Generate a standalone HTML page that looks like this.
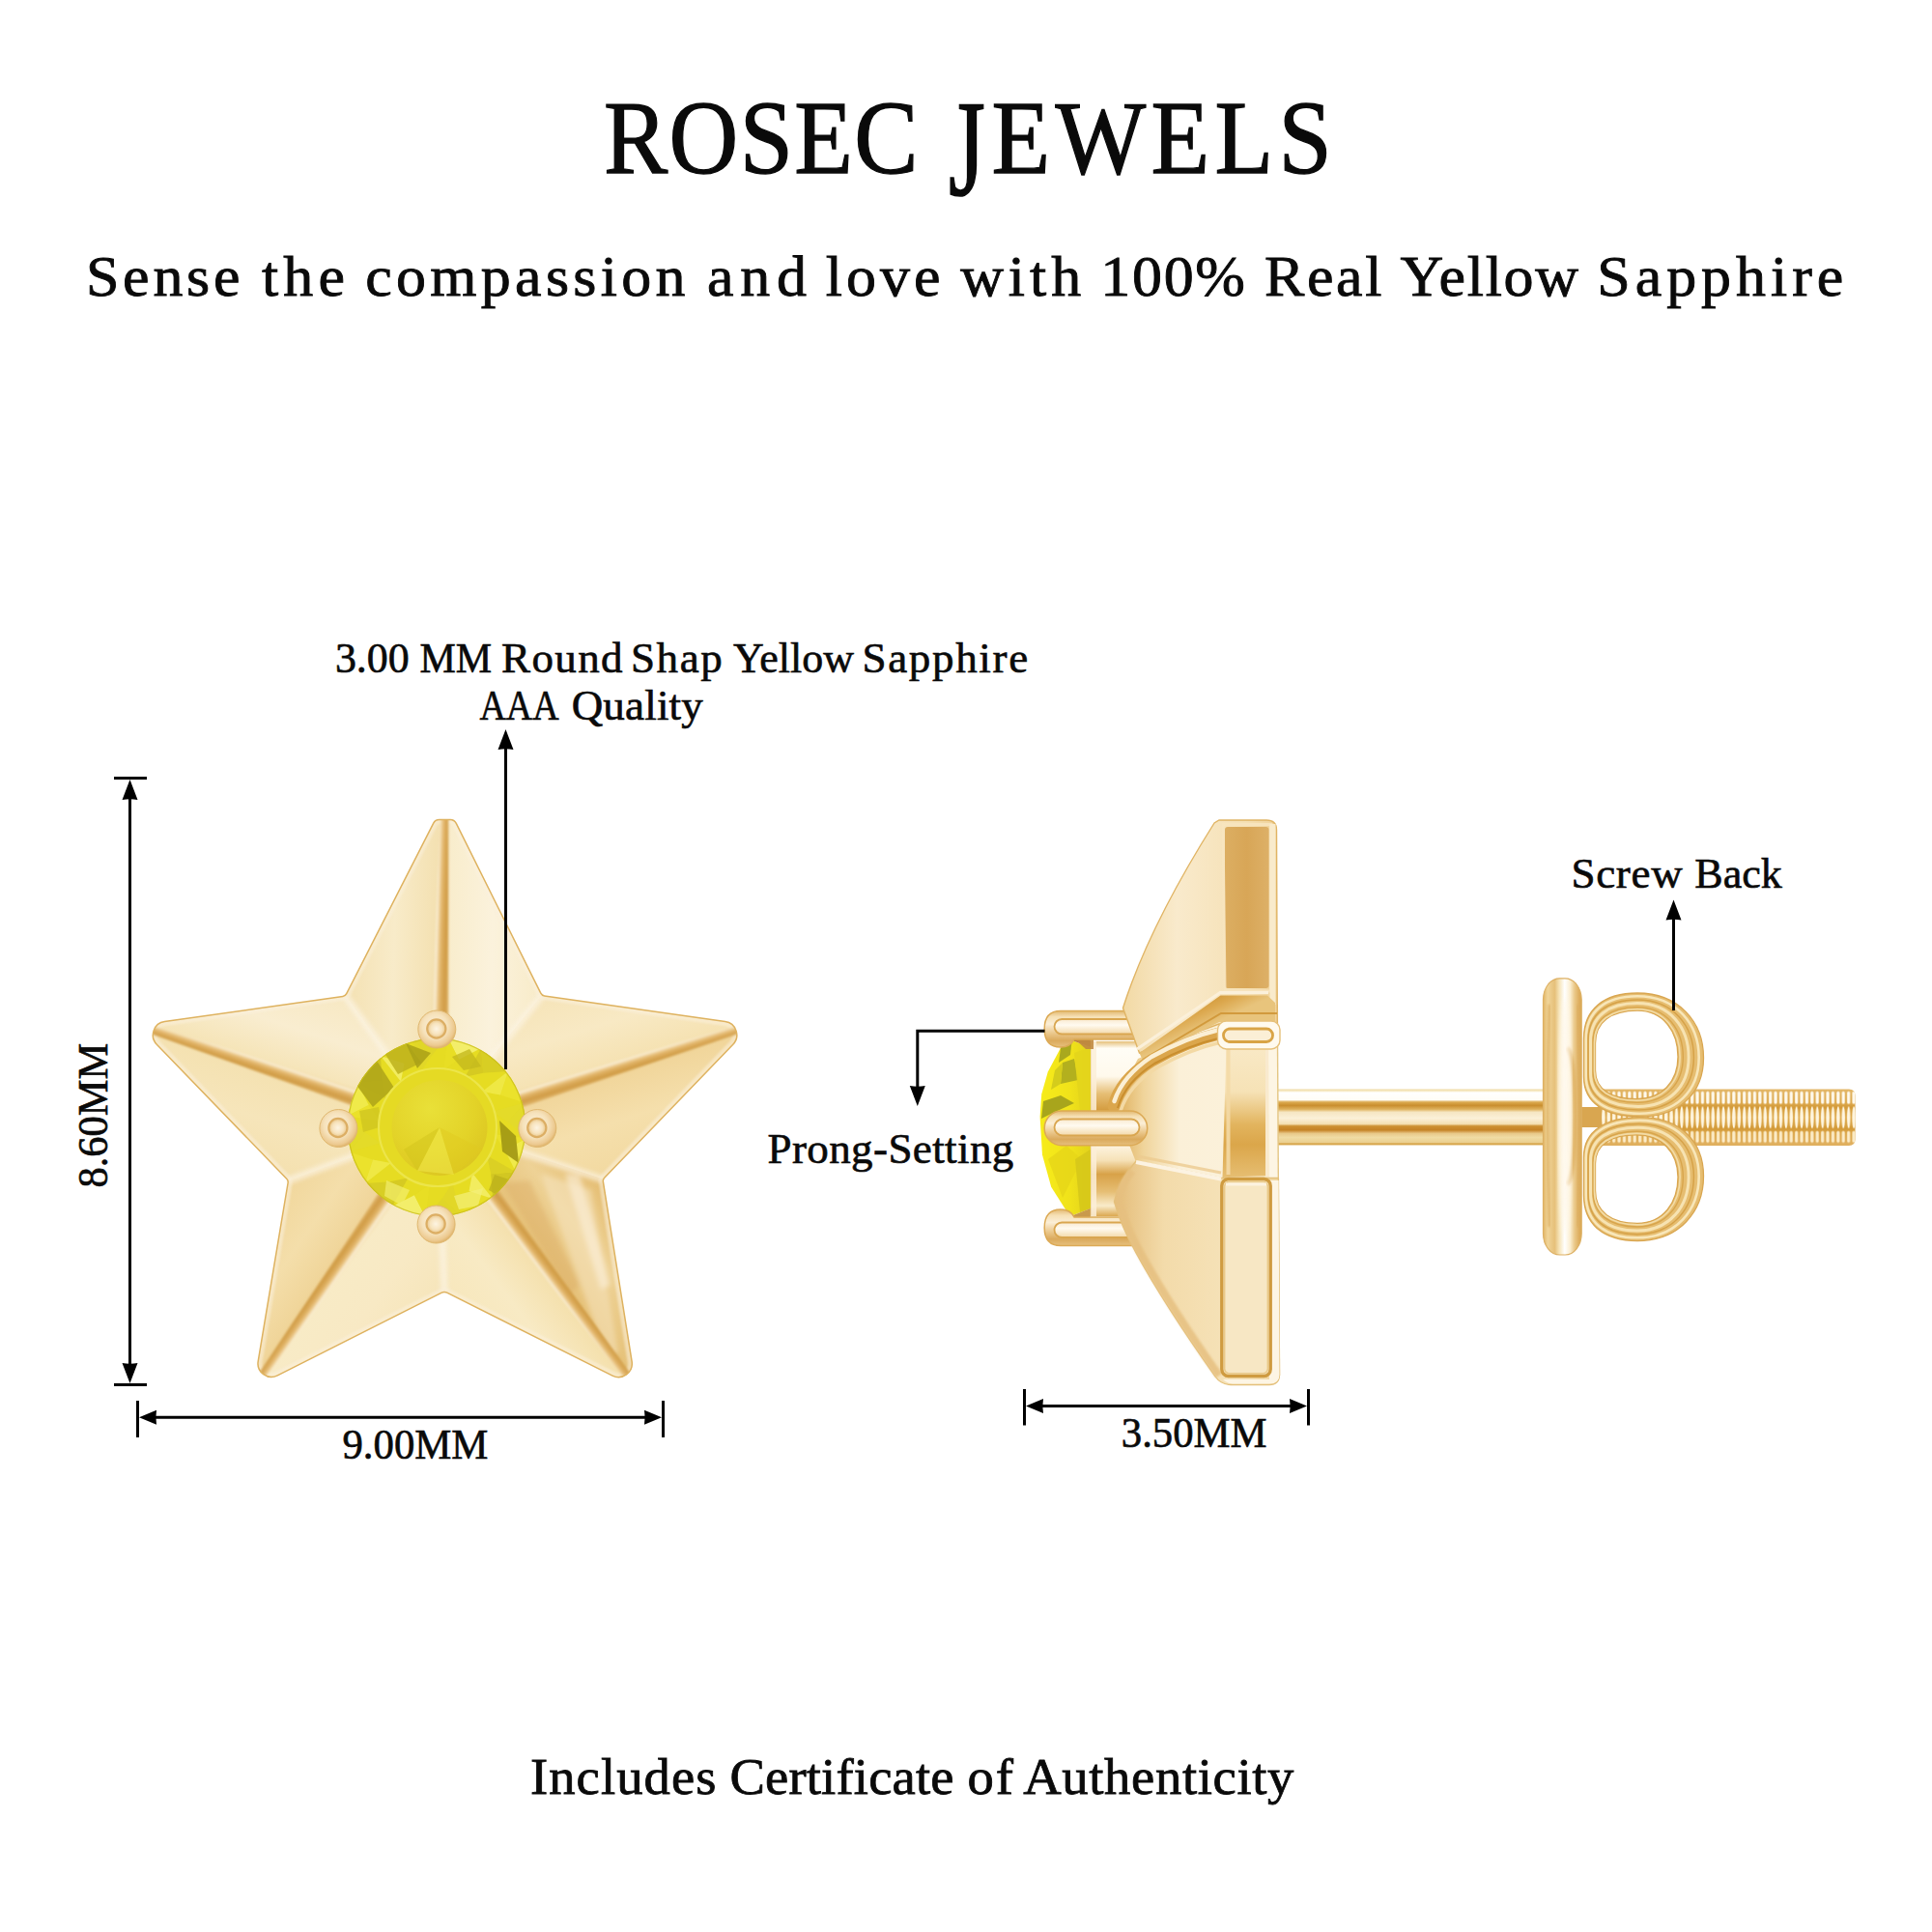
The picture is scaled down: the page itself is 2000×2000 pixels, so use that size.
<!DOCTYPE html>
<html lang="en">
<head>
<meta charset="utf-8">
<title>Rosec Jewels - Yellow Sapphire Star Stud Earrings</title>
<style>
html,body{margin:0;padding:0;background:#ffffff;}
body{width:2000px;height:2000px;overflow:hidden;position:relative;font-family:"Liberation Serif",serif;}
svg{position:absolute;left:0;top:0;display:block;}
text{font-family:"Liberation Serif",serif;fill:#0a0a0a;}
.ln{stroke:#000;stroke-width:3;fill:none;}
.ah{fill:#000;stroke:none;}
</style>
</head>
<body>
<svg width="2000" height="2000" viewBox="0 0 2000 2000">
<!-- ===== front view: star ===== -->
<defs>
<clipPath id="starClip"><path d="M448.6 852.3A7 7 0 0 1 454.8 848.5L466.1 848.5A7 7 0 0 1 472.3 852.4L559.8 1028.2A5 5 0 0 0 563.6 1030.9L750.7 1057.6A14 14 0 0 1 758.8 1081.2L625.7 1219.2A5 5 0 0 0 624.4 1223.5L654.1 1409.4A14 14 0 0 1 634.0 1424.1L462.7 1338.2A6 6 0 0 0 457.3 1338.2L287.3 1423.9A14 14 0 0 1 267.2 1409.1L298.1 1224.5A5 5 0 0 0 296.7 1220.2L162.3 1081.2A14 14 0 0 1 170.4 1057.6L354.9 1031.4A5 5 0 0 0 358.7 1028.7Z"/></clipPath>
<linearGradient id="f0" gradientUnits="userSpaceOnUse" x1="455.9" y1="1033.2" x2="357.5" y2="1031.0"><stop offset="0" stop-color="#f3dfae"/><stop offset="0.5" stop-color="#f8ebc9"/><stop offset="1" stop-color="#f4e1b2"/></linearGradient>
<linearGradient id="f1" gradientUnits="userSpaceOnUse" x1="456.0" y1="1028.2" x2="561.0" y2="1030.5"><stop offset="0" stop-color="#f8ecca"/><stop offset="0.5" stop-color="#fbf2dc"/><stop offset="1" stop-color="#f8ebc8"/></linearGradient>
<linearGradient id="f2" gradientUnits="userSpaceOnUse" x1="589.5" y1="1120.9" x2="561.0" y2="1030.5"><stop offset="0" stop-color="#f5e1b0"/><stop offset="0.5" stop-color="#f8e9c4"/><stop offset="1" stop-color="#f6e4b8"/></linearGradient>
<linearGradient id="f3" gradientUnits="userSpaceOnUse" x1="592.2" y1="1120.1" x2="624.0" y2="1221.0"><stop offset="0" stop-color="#f0d498"/><stop offset="0.5" stop-color="#f5dfac"/><stop offset="1" stop-color="#f2d9a0"/></linearGradient>
<linearGradient id="f4" gradientUnits="userSpaceOnUse" x1="542.4" y1="1282.5" x2="624.0" y2="1221.0"><stop offset="0" stop-color="#e5c076"/><stop offset="0.5" stop-color="#eed296"/><stop offset="1" stop-color="#e4bc70"/></linearGradient>
<linearGradient id="f5" gradientUnits="userSpaceOnUse" x1="538.6" y1="1277.5" x2="460.0" y2="1336.8"><stop offset="0" stop-color="#f4dfaa"/><stop offset="0.5" stop-color="#f8eac4"/><stop offset="1" stop-color="#f7e7bc"/></linearGradient>
<linearGradient id="f6" gradientUnits="userSpaceOnUse" x1="374.2" y1="1276.8" x2="460.0" y2="1336.8"><stop offset="0" stop-color="#f8ebc6"/><stop offset="0.5" stop-color="#f8e9c4"/><stop offset="1" stop-color="#f6e5ba"/></linearGradient>
<linearGradient id="f7" gradientUnits="userSpaceOnUse" x1="375.1" y1="1275.5" x2="298.5" y2="1222.0"><stop offset="0" stop-color="#efd396"/><stop offset="0.5" stop-color="#f4deaa"/><stop offset="1" stop-color="#f1d79c"/></linearGradient>
<linearGradient id="f8" gradientUnits="userSpaceOnUse" x1="331.0" y1="1123.6" x2="298.5" y2="1222.0"><stop offset="0" stop-color="#f4e1b0"/><stop offset="0.5" stop-color="#f6e5ba"/><stop offset="1" stop-color="#f4e0ae"/></linearGradient>
<linearGradient id="f9" gradientUnits="userSpaceOnUse" x1="327.3" y1="1122.4" x2="357.5" y2="1031.0"><stop offset="0" stop-color="#f5e3b4"/><stop offset="0.5" stop-color="#f9edd0"/><stop offset="1" stop-color="#f7e8c2"/></linearGradient>
<filter id="soft" x="-5%" y="-5%" width="110%" height="110%"><feGaussianBlur stdDeviation="2.5"/></filter>
<filter id="soft1" x="-5%" y="-5%" width="110%" height="110%"><feGaussianBlur stdDeviation="0.9"/></filter>
<filter id="soft4" x="-10%" y="-10%" width="120%" height="120%"><feGaussianBlur stdDeviation="5"/></filter>
<radialGradient id="bead" cx="0.45" cy="0.42" r="0.6"><stop offset="0" stop-color="#fdf3e0"/><stop offset="0.55" stop-color="#f6e2bb"/><stop offset="0.85" stop-color="#ecc98f"/><stop offset="1" stop-color="#dcae62"/></radialGradient>
<radialGradient id="beadIn" cx="0.5" cy="0.5" r="0.5"><stop offset="0" stop-color="#fdf4e2"/><stop offset="0.6" stop-color="#f7e3bd"/><stop offset="1" stop-color="#e9c688"/></radialGradient>
<radialGradient id="tableG" cx="0.4" cy="0.3" r="0.85"><stop offset="0" stop-color="#e9e038"/><stop offset="0.55" stop-color="#e3d328"/><stop offset="1" stop-color="#d9c01e"/></radialGradient>
<clipPath id="gemClip"><circle cx="452" cy="1167" r="92.3"/></clipPath>
<linearGradient id="rgT" gradientUnits="userSpaceOnUse" x1="449.7" y1="963.5" x2="465.2" y2="963.9"><stop offset="0" stop-color="#f3dcaa" stop-opacity="0.5"/><stop offset="0.15" stop-color="#faefd6"/><stop offset="0.32" stop-color="#ecca8c"/><stop offset="0.5" stop-color="#dfb062"/><stop offset="0.8" stop-color="#d09c46"/><stop offset="1" stop-color="#dcae60"/></linearGradient>
<linearGradient id="rgR" gradientUnits="userSpaceOnUse" x1="644.1" y1="1095.6" x2="648.7" y2="1110.4"><stop offset="0" stop-color="#f3dcaa" stop-opacity="0.5"/><stop offset="0.15" stop-color="#faefd6"/><stop offset="0.32" stop-color="#ecca8c"/><stop offset="0.5" stop-color="#dfb062"/><stop offset="0.8" stop-color="#d09c46"/><stop offset="1" stop-color="#dcae60"/></linearGradient>
<linearGradient id="rgBR" gradientUnits="userSpaceOnUse" x1="569.1" y1="1330.8" x2="581.5" y2="1321.5"><stop offset="0" stop-color="#f3dcaa" stop-opacity="0.5"/><stop offset="0.15" stop-color="#faefd6"/><stop offset="0.32" stop-color="#ecca8c"/><stop offset="0.5" stop-color="#dfb062"/><stop offset="0.8" stop-color="#d09c46"/><stop offset="1" stop-color="#dcae60"/></linearGradient>
<linearGradient id="rgBL" gradientUnits="userSpaceOnUse" x1="345.5" y1="1331.3" x2="332.8" y2="1322.4"><stop offset="0" stop-color="#f3dcaa" stop-opacity="0.5"/><stop offset="0.15" stop-color="#faefd6"/><stop offset="0.32" stop-color="#ecca8c"/><stop offset="0.5" stop-color="#dfb062"/><stop offset="0.8" stop-color="#d09c46"/><stop offset="1" stop-color="#dcae60"/></linearGradient>
<linearGradient id="rgL" gradientUnits="userSpaceOnUse" x1="269.7" y1="1095.2" x2="264.8" y2="1109.9"><stop offset="0" stop-color="#f3dcaa" stop-opacity="0.5"/><stop offset="0.15" stop-color="#faefd6"/><stop offset="0.32" stop-color="#ecca8c"/><stop offset="0.5" stop-color="#dfb062"/><stop offset="0.8" stop-color="#d09c46"/><stop offset="1" stop-color="#dcae60"/></linearGradient>
</defs>
<g id="star">
<path d="M448.6 852.3A7 7 0 0 1 454.8 848.5L466.1 848.5A7 7 0 0 1 472.3 852.4L559.8 1028.2A5 5 0 0 0 563.6 1030.9L750.7 1057.6A14 14 0 0 1 758.8 1081.2L625.7 1219.2A5 5 0 0 0 624.4 1223.5L654.1 1409.4A14 14 0 0 1 634.0 1424.1L462.7 1338.2A6 6 0 0 0 457.3 1338.2L287.3 1423.9A14 14 0 0 1 267.2 1409.1L298.1 1224.5A5 5 0 0 0 296.7 1220.2L162.3 1081.2A14 14 0 0 1 170.4 1057.6L354.9 1031.4A5 5 0 0 0 358.7 1028.7Z" fill="#f6e4b8"/>
<g clip-path="url(#starClip)">
<path d="M453.0 1164.0L460.7 818.3L346.0 1015.0Z" fill="url(#f0)" stroke="url(#f0)" stroke-width="1"/>
<path d="M453.0 1164.0L460.7 818.3L574.0 1014.5Z" fill="url(#f1)" stroke="url(#f1)" stroke-width="1"/>
<path d="M453.0 1164.0L787.5 1058.4L574.0 1014.5Z" fill="url(#f2)" stroke="url(#f2)" stroke-width="1"/>
<path d="M453.0 1164.0L787.5 1058.4L644.5 1227.8Z" fill="url(#f3)" stroke="url(#f3)" stroke-width="1"/>
<path d="M453.0 1164.0L664.6 1444.6L644.5 1227.8Z" fill="url(#f4)" stroke="url(#f4)" stroke-width="1"/>
<path d="M453.0 1164.0L664.6 1444.6L460.8 1357.5Z" fill="url(#f5)" stroke="url(#f5)" stroke-width="1"/>
<path d="M453.0 1164.0L256.9 1444.6L460.8 1357.5Z" fill="url(#f6)" stroke="url(#f6)" stroke-width="1"/>
<path d="M453.0 1164.0L256.9 1444.6L280.0 1229.0Z" fill="url(#f7)" stroke="url(#f7)" stroke-width="1"/>
<path d="M453.0 1164.0L133.9 1058.4L280.0 1229.0Z" fill="url(#f8)" stroke="url(#f8)" stroke-width="1"/>
<path d="M453.0 1164.0L133.9 1058.4L346.0 1015.0Z" fill="url(#f9)" stroke="url(#f9)" stroke-width="1"/>
<g filter="url(#soft)">
<path d="M560 1215L612 1232L640 1400L628 1405Z" fill="#f6e3bd" opacity="0.55"/>
<path d="M520 1225L548 1222L600 1330L590 1340Z" fill="#dcae66" opacity="0.45"/>
<path d="M585 1215L600 1216L632 1330L622 1335Z" fill="#fbf0dc" opacity="0.6"/>
</g>
<g filter="url(#soft)" opacity="0.75">
<path d="M453.0 1164.0L357.5 1031.0" stroke="#fcf4e4" stroke-width="7" fill="none"/>
<path d="M453.0 1164.0L561.0 1030.5" stroke="#fcf4e4" stroke-width="7" fill="none"/>
<path d="M453.0 1164.0L624.0 1221.0" stroke="#fcf4e4" stroke-width="7" fill="none"/>
<path d="M453.0 1164.0L460.0 1336.8" stroke="#fcf4e4" stroke-width="7" fill="none"/>
<path d="M453.0 1164.0L298.5 1222.0" stroke="#fcf4e4" stroke-width="7" fill="none"/>
</g>
<path d="M448.6 852.3A7 7 0 0 1 454.8 848.5L466.1 848.5A7 7 0 0 1 472.3 852.4L559.8 1028.2A5 5 0 0 0 563.6 1030.9L750.7 1057.6A14 14 0 0 1 758.8 1081.2L625.7 1219.2A5 5 0 0 0 624.4 1223.5L654.1 1409.4A14 14 0 0 1 634.0 1424.1L462.7 1338.2A6 6 0 0 0 457.3 1338.2L287.3 1423.9A14 14 0 0 1 267.2 1409.1L298.1 1224.5A5 5 0 0 0 296.7 1220.2L162.3 1081.2A14 14 0 0 1 170.4 1057.6L354.9 1031.4A5 5 0 0 0 358.7 1028.7Z" fill="none" stroke="#fbf1de" stroke-width="9" opacity="0.55" filter="url(#soft1)"/>
<g filter="url(#soft1)">
<path d="M464.2 1086.2L464.2 841.5L456.2 841.3L445.2 1085.8Z" fill="url(#rgT)"/>
<path d="M530.2 1149.6L766.6 1069.2L764.2 1061.6L524.5 1131.5Z" fill="url(#rgR)"/>
<path d="M507.5 1220.6L653.8 1423.6L647.4 1428.4L492.4 1232.0Z" fill="url(#rgBR)"/>
<path d="M400.5 1222.5L266.8 1423.5L273.3 1428.0L416.1 1233.4Z" fill="url(#rgBL)"/>
<path d="M376.0 1148.5L154.3 1069.4L156.8 1061.8L381.9 1130.5Z" fill="url(#rgL)"/>
</g>
</g>
<path d="M448.6 852.3A7 7 0 0 1 454.8 848.5L466.1 848.5A7 7 0 0 1 472.3 852.4L559.8 1028.2A5 5 0 0 0 563.6 1030.9L750.7 1057.6A14 14 0 0 1 758.8 1081.2L625.7 1219.2A5 5 0 0 0 624.4 1223.5L654.1 1409.4A14 14 0 0 1 634.0 1424.1L462.7 1338.2A6 6 0 0 0 457.3 1338.2L287.3 1423.9A14 14 0 0 1 267.2 1409.1L298.1 1224.5A5 5 0 0 0 296.7 1220.2L162.3 1081.2A14 14 0 0 1 170.4 1057.6L354.9 1031.4A5 5 0 0 0 358.7 1028.7Z" fill="none" stroke="#deb25f" stroke-width="1.5"/>
<g clip-path="url(#gemClip)">
<circle cx="452.0" cy="1167.0" r="92.3" fill="#e6dc22"/>
<path d="M545.5 1178.3L534.0 1213.2L522.3 1190.0Z" fill="#f0ea4a"/>
<path d="M545.5 1178.3L522.3 1190.0L511.6 1174.2Z" fill="#ebe22c" opacity="0.85"/>
<path d="M534.0 1213.2L510.1 1241.1L508.2 1215.2Z" fill="#d2c722"/>
<path d="M534.0 1213.2L508.2 1215.2L504.3 1196.4Z" fill="#d8ce24" opacity="0.85"/>
<path d="M510.1 1241.1L477.4 1257.7L485.5 1233.0Z" fill="#e8de25"/>
<path d="M510.1 1241.1L485.5 1233.0L489.0 1214.2Z" fill="#f3ee6a" opacity="0.85"/>
<path d="M477.4 1257.7L440.7 1260.5L457.6 1240.8Z" fill="#e0d628"/>
<path d="M477.4 1257.7L457.6 1240.8L468.2 1224.8Z" fill="#e0d628" opacity="0.85"/>
<path d="M440.7 1260.5L405.8 1249.0L429.0 1237.3Z" fill="#f3ee6a"/>
<path d="M440.7 1260.5L429.0 1237.3L444.8 1226.6Z" fill="#e8de25" opacity="0.85"/>
<path d="M405.8 1249.0L377.9 1225.1L403.8 1223.2Z" fill="#d8ce24"/>
<path d="M405.8 1249.0L403.8 1223.2L422.6 1219.3Z" fill="#d2c722" opacity="0.85"/>
<path d="M377.9 1225.1L361.3 1192.4L386.0 1200.5Z" fill="#ebe22c"/>
<path d="M377.9 1225.1L386.0 1200.5L404.8 1204.0Z" fill="#f0ea4a" opacity="0.85"/>
<path d="M361.3 1192.4L358.5 1155.7L378.2 1172.6Z" fill="#e3da2a"/>
<path d="M361.3 1192.4L378.2 1172.6L394.2 1183.2Z" fill="#e3da2a" opacity="0.85"/>
<path d="M358.5 1155.7L370.0 1120.8L381.7 1144.0Z" fill="#f0ea4a"/>
<path d="M358.5 1155.7L381.7 1144.0L392.4 1159.8Z" fill="#ebe22c" opacity="0.85"/>
<path d="M370.0 1120.8L393.9 1092.9L395.8 1118.8Z" fill="#d2c722"/>
<path d="M370.0 1120.8L395.8 1118.8L399.7 1137.6Z" fill="#d8ce24" opacity="0.85"/>
<path d="M393.9 1092.9L426.6 1076.3L418.5 1101.0Z" fill="#e8de25"/>
<path d="M393.9 1092.9L418.5 1101.0L415.0 1119.8Z" fill="#f3ee6a" opacity="0.85"/>
<path d="M426.6 1076.3L463.3 1073.5L446.4 1093.2Z" fill="#e0d628"/>
<path d="M426.6 1076.3L446.4 1093.2L435.8 1109.2Z" fill="#e0d628" opacity="0.85"/>
<path d="M463.3 1073.5L498.2 1085.0L475.0 1096.7Z" fill="#f3ee6a"/>
<path d="M463.3 1073.5L475.0 1096.7L459.2 1107.4Z" fill="#e8de25" opacity="0.85"/>
<path d="M498.2 1085.0L526.1 1108.9L500.2 1110.8Z" fill="#d8ce24"/>
<path d="M498.2 1085.0L500.2 1110.8L481.4 1114.7Z" fill="#d2c722" opacity="0.85"/>
<path d="M526.1 1108.9L542.7 1141.6L518.0 1133.5Z" fill="#ebe22c"/>
<path d="M526.1 1108.9L518.0 1133.5L499.2 1130.0Z" fill="#f0ea4a" opacity="0.85"/>
<path d="M542.7 1141.6L545.5 1178.3L525.8 1161.4Z" fill="#e3da2a"/>
<path d="M542.7 1141.6L525.8 1161.4L509.8 1150.8Z" fill="#e3da2a" opacity="0.85"/>
<path d="M368 1122L390 1098L408 1126L386 1146Z" fill="#b0a61a" opacity="0.9"/>
<path d="M398 1090L420 1078L436 1100L412 1112Z" fill="#bdb21c" opacity="0.85"/>
<path d="M420 1080L446 1090L432 1106Z" fill="#a9a018" opacity="0.85"/>
<path d="M468 1094L486 1086L498 1104L480 1108Z" fill="#c4b91e" opacity="0.8"/>
<path d="M517 1160L534 1176L537 1204L520 1192Z" fill="#a39a15" opacity="0.95"/>
<path d="M512 1216L530 1222L520 1240L506 1232Z" fill="#bdb21c" opacity="0.8"/>
<path d="M372 1150L392 1146L396 1166L376 1172Z" fill="#cfc520" opacity="0.8"/>
<path d="M470 1238L500 1230L495 1248L475 1252Z" fill="#f4f07a" opacity="0.7"/>
<path d="M400 1222L424 1232L416 1248L398 1238Z" fill="#f2ee6e" opacity="0.7"/>
<circle cx="453.0" cy="1167.0" r="61" fill="#e5da24" stroke="#ece54a" stroke-width="2.2"/>
<circle cx="455.0" cy="1167.5" r="49.5" fill="url(#tableG)"/>
<path d="M455 1167L432 1212L470 1216Z" fill="#f0e84a" opacity="0.55"/>
<path d="M455 1167L418 1190L432 1212Z" fill="#d2c31c" opacity="0.5"/>
<path d="M455 1167L500 1190L470 1216Z" fill="#dfc91e" opacity="0.45"/>
</g>
<circle cx="452.0" cy="1167.0" r="91.7" fill="none" stroke="#c9bd1c" stroke-width="1.2" opacity="0.8"/>
<circle cx="452.3" cy="1065.5" r="19.5" fill="url(#bead)" stroke="#e0b870" stroke-width="1"/>
<circle cx="451.8" cy="1065.0" r="9.6" fill="url(#beadIn)" stroke="#dcae64" stroke-width="2.2"/>
<circle cx="350.4" cy="1168" r="19.5" fill="url(#bead)" stroke="#e0b870" stroke-width="1"/>
<circle cx="349.9" cy="1167.5" r="9.6" fill="url(#beadIn)" stroke="#dcae64" stroke-width="2.2"/>
<circle cx="556.3" cy="1168" r="19.5" fill="url(#bead)" stroke="#e0b870" stroke-width="1"/>
<circle cx="555.8" cy="1167.5" r="9.6" fill="url(#beadIn)" stroke="#dcae64" stroke-width="2.2"/>
<circle cx="451.6" cy="1267.5" r="19.5" fill="url(#bead)" stroke="#e0b870" stroke-width="1"/>
<circle cx="451.1" cy="1267.0" r="9.6" fill="url(#beadIn)" stroke="#dcae64" stroke-width="2.2"/>
</g>
<!-- ===== side view ===== -->
<defs>
<linearGradient id="gBevel" gradientUnits="userSpaceOnUse" x1="1230" y1="1040" x2="1242" y2="1066"><stop offset="0" stop-color="#cf9636"/><stop offset="0.45" stop-color="#dca84e"/><stop offset="1" stop-color="#e8c47c"/></linearGradient><linearGradient id="gFace" x1="0" y1="0" x2="1" y2="0"><stop offset="0" stop-color="#f2d9a4"/><stop offset="0.35" stop-color="#f9eacc"/><stop offset="0.8" stop-color="#f5e0b4"/><stop offset="1" stop-color="#efd198"/></linearGradient>
<linearGradient id="gPanel" x1="0" y1="0" x2="1" y2="0"><stop offset="0" stop-color="#dcae62"/><stop offset="0.5" stop-color="#d8a657"/><stop offset="1" stop-color="#ddb067"/></linearGradient>
<linearGradient id="gEdge" x1="0" y1="0" x2="1" y2="0"><stop offset="0" stop-color="#f8dfaf"/><stop offset="0.6" stop-color="#f5d495"/><stop offset="1" stop-color="#e5b35d"/></linearGradient>
<linearGradient id="gBody" x1="0" y1="0" x2="1" y2="0"><stop offset="0" stop-color="#dcaa54"/><stop offset="0.18" stop-color="#f0d49a"/><stop offset="0.4" stop-color="#fbf0d8"/><stop offset="0.7" stop-color="#fbf1da"/><stop offset="1" stop-color="#f3dcac"/></linearGradient>
<linearGradient id="gLow" x1="0" y1="0" x2="1" y2="0"><stop offset="0" stop-color="#e4bc78"/><stop offset="0.3" stop-color="#f3dbaa"/><stop offset="0.75" stop-color="#f6e3ba"/><stop offset="1" stop-color="#f1d7a2"/></linearGradient>
<linearGradient id="gMidPanel" x1="0" y1="0" x2="0" y2="1"><stop offset="0" stop-color="#f9e9c6"/><stop offset="0.35" stop-color="#f6e2b6"/><stop offset="0.6" stop-color="#e2b45e"/><stop offset="0.75" stop-color="#dba64a"/><stop offset="1" stop-color="#e6be72"/></linearGradient>
<linearGradient id="gBar" x1="0" y1="0" x2="0" y2="1"><stop offset="0" stop-color="#e2b870"/><stop offset="0.16" stop-color="#f6e0b4"/><stop offset="0.36" stop-color="#fbeed6"/><stop offset="0.6" stop-color="#ecca90"/><stop offset="0.82" stop-color="#dbaa5c"/><stop offset="1" stop-color="#e6c07e"/></linearGradient><linearGradient id="gBarIn" x1="0" y1="0" x2="0" y2="1"><stop offset="0" stop-color="#f9ead0"/><stop offset="0.4" stop-color="#fffaf0"/><stop offset="1" stop-color="#f3d9a8"/></linearGradient>
<linearGradient id="gPost" x1="0" y1="0" x2="0" y2="1"><stop offset="0" stop-color="#eed9a2"/><stop offset="0.03" stop-color="#f6e8c0"/><stop offset="0.06" stop-color="#ffffff"/><stop offset="0.19" stop-color="#fffdf6"/><stop offset="0.23" stop-color="#dcab50"/><stop offset="0.29" stop-color="#c98e2e"/><stop offset="0.36" stop-color="#dfb25e"/><stop offset="0.41" stop-color="#f6e6c2"/><stop offset="0.52" stop-color="#fbf0d8"/><stop offset="0.62" stop-color="#f4dfb0"/><stop offset="0.66" stop-color="#cd9030"/><stop offset="0.73" stop-color="#c58224"/><stop offset="0.79" stop-color="#e8c888"/><stop offset="0.86" stop-color="#f0dca4"/><stop offset="0.95" stop-color="#ebcf90"/><stop offset="0.975" stop-color="#d4a244"/><stop offset="1" stop-color="#dfb566"/></linearGradient>
<linearGradient id="gBezel" x1="0" y1="0" x2="0" y2="1"><stop offset="0" stop-color="#e6c07a"/><stop offset="0.04" stop-color="#fffdf6"/><stop offset="0.2" stop-color="#fff9ec"/><stop offset="0.3" stop-color="#e6be74"/><stop offset="0.4" stop-color="#d39a3c"/><stop offset="0.52" stop-color="#dca84e"/><stop offset="0.6" stop-color="#fdf3de"/><stop offset="0.68" stop-color="#f6e2b8"/><stop offset="0.76" stop-color="#d8a248"/><stop offset="0.86" stop-color="#e6be74"/><stop offset="0.94" stop-color="#f9ebca"/><stop offset="1" stop-color="#dba850"/></linearGradient>
<linearGradient id="gDisc" x1="0" y1="0" x2="1" y2="0"><stop offset="0" stop-color="#e2b666"/><stop offset="0.12" stop-color="#f0d498"/><stop offset="0.3" stop-color="#e6c07a"/><stop offset="0.42" stop-color="#f6e4b8"/><stop offset="0.56" stop-color="#ffffff"/><stop offset="0.7" stop-color="#fbefd2"/><stop offset="0.82" stop-color="#eac888"/><stop offset="0.93" stop-color="#dfb062"/><stop offset="1" stop-color="#d9a650"/></linearGradient>
<linearGradient id="gThread" x1="0" y1="0" x2="0" y2="1"><stop offset="0" stop-color="#e3b768"/><stop offset="0.25" stop-color="#dca84c"/><stop offset="0.32" stop-color="#d39a38"/><stop offset="0.5" stop-color="#dfae56"/><stop offset="0.7" stop-color="#d39a38"/><stop offset="0.78" stop-color="#dca84c"/><stop offset="1" stop-color="#e0b060"/></linearGradient>
<pattern id="thr" x="1749" y="1127.3" width="5.4" height="59" patternUnits="userSpaceOnUse"><rect x="1.1" y="2.5" width="3.1" height="13" rx="1.5" fill="#fffaee"/><ellipse cx="2.7" cy="29.5" rx="1.7" ry="11.5" fill="#fff6e0"/><rect x="1.1" y="43.5" width="3.1" height="12" rx="1.5" fill="#fcecc8"/></pattern>
<linearGradient id="gGemS" x1="0" y1="0" x2="1" y2="0"><stop offset="0" stop-color="#f7ec1a"/><stop offset="0.6" stop-color="#f0e21a"/><stop offset="1" stop-color="#e2d21c"/></linearGradient>
</defs>
<g id="side">
<!-- post -->
<rect x="1322" y="1127.5" width="280" height="58" fill="url(#gPost)"/>
<!-- threaded end -->
<rect x="1636" y="1146" width="26" height="21" fill="#d9a650"/>
<path d="M1658 1127.5H1914Q1920.5 1127.5 1920.5 1134V1179.5Q1920.5 1186 1914 1186H1658Z" fill="url(#gThread)"/>
<path d="M1658 1127.5H1914Q1920.5 1127.5 1920.5 1134V1179.5Q1920.5 1186 1914 1186H1658Z" fill="url(#thr)"/>
<!-- bezel -->
<rect x="1128" y="1078" width="62" height="181" rx="4" fill="url(#gBezel)"/>
<rect x="1128" y="1078" width="7" height="181" fill="#fbefd8" opacity="0.85"/>
<path d="M1128.7 1078V1259" stroke="#e2b86e" stroke-width="1.2" fill="none"/>
<!-- gem side -->
<path d="M1128.7 1084L1109.7 1077L1098 1084.7L1084.8 1109.5L1078.2 1132.7L1076.6 1156L1079 1195.6L1088.2 1228.8L1103 1252L1109.7 1258.6L1128.7 1251Z" fill="url(#gGemS)"/>
<path d="M1109.7 1077L1098 1084.7L1096 1100L1108 1092Z" fill="#a9a81e"/>
<path d="M1100 1100L1112 1096L1116 1118L1098 1122Z" fill="#b3b01e"/>
<path d="M1092 1108L1100 1100L1098 1122L1088 1128Z" fill="#d4cc1c"/>
<path d="M1080 1140L1098 1134L1112 1142L1090 1152L1078 1158Z" fill="#a8a51c"/>
<path d="M1112 1090L1128.7 1084V1150L1118 1150Z" fill="#e3d51c" opacity="0.9"/>
<path d="M1085 1200L1104 1186L1120 1200L1100 1240Z" fill="#e6d618" opacity="0.8"/>
<path d="M1113 1200L1128.7 1190V1251L1118 1255Z" fill="#d6c81a" opacity="0.9"/>
<path d="M1096 1086L1109.7 1077L1128.7 1084V1075H1110Z" fill="#b9803a"/>
<path d="M1112 1075H1132V1086H1124Z" fill="#c08a40" opacity="0.9"/>
<path d="M1100 1251L1109.7 1258.6L1128.7 1251V1262H1108Z" fill="#c99a4c"/>
<!-- outer prongs (behind arms) -->
<g stroke="#dcaa56" stroke-width="1.5">
<path d="M1098 1046.5H1181V1076H1112Q1108 1084 1098 1084Q1081.2 1084 1081.2 1065Q1081.2 1046.5 1098 1046.5Z" fill="url(#gBar)"/>
<path d="M1098 1289.5H1181V1260H1112Q1108 1252 1098 1252Q1081.2 1252 1081.2 1271Q1081.2 1289.5 1098 1289.5Z" fill="url(#gBar)"/>
</g>
<rect x="1091.5" y="1055" width="92" height="15.5" rx="7.7" fill="url(#gBarIn)" stroke="#d9a650" stroke-width="1.8"/>
<rect x="1091.5" y="1265.5" width="92" height="15.5" rx="7.7" fill="url(#gBarIn)" stroke="#d9a650" stroke-width="1.8"/>
<!-- middle body -->
<path d="M1178 1096L1262 1060H1323V1222H1262L1176 1203L1153 1144Z" fill="url(#gBody)"/>
<path d="M1269.5 1082H1310V1217L1265.5 1219Z" fill="url(#gMidPanel)"/>
<path d="M1271.5 1084V1216" stroke="#f3d9a6" stroke-width="4" fill="none" opacity="0.9"/>
<!-- right edge band (full height) -->
<path d="M1313 1040H1322.3L1324.5 1423Q1324.5 1433.5 1314 1433.5Z" fill="#fdf5e4"/>
<path d="M1311.5 1084V1430" stroke="#f9ebd0" stroke-width="3" fill="none" opacity="0.9"/>
<path d="M1322.3 1040L1324.5 1424" stroke="#e4c684" stroke-width="1.4" fill="none"/>
<!-- top arm -->
<path d="M1262 849H1311Q1321.5 849 1321.5 859L1322.3 1060H1262L1179.5 1090L1162.5 1043.5Q1189 960 1257 852Z" fill="url(#gFace)" stroke="#e0b464" stroke-width="1.4"/>
<rect x="1268" y="856" width="45.5" height="167" rx="3" fill="url(#gPanel)"/>
<path d="M1266 853.5H1315.5V1026L1268 1026Z" fill="none" stroke="#f7e4bf" stroke-width="3" opacity="0.9"/>
<path d="M1317.5 853V1040" stroke="#f9ebcc" stroke-width="6" fill="none"/>
<path d="M1179.5 1090L1263.5 1030.5H1312L1320 1038V1058H1262L1183 1098Z" fill="url(#gBevel)"/>
<path d="M1177 1086L1263 1027.5H1313" stroke="#fbf0da" stroke-width="3" fill="none"/>
<path d="M1183 1097L1264 1049H1322" stroke="#cf9636" stroke-width="2" fill="none" opacity="0.9"/>
<!-- arched flange between arms -->
<path d="M1153 1145Q1160 1118 1192 1098Q1228 1078 1262 1070" stroke="#dba64c" stroke-width="13" fill="none" stroke-linecap="round"/>
<path d="M1153.5 1140Q1162 1114 1192 1094Q1228 1074 1262 1066" stroke="#fbefd4" stroke-width="4.5" fill="none" stroke-linecap="round"/>
<path d="M1160 1150Q1168 1124 1198 1105Q1232 1086 1264 1079" stroke="#f3d9a4" stroke-width="3.5" fill="none" stroke-linecap="round"/>
<path d="M1157 1147Q1165 1120 1195 1101Q1230 1082 1263 1074.5" stroke="#c98e2e" stroke-width="2" fill="none"/>
<!-- collar -->
<rect x="1260.5" y="1057" width="64.5" height="29" rx="9" fill="#fffaee" stroke="#e6c07a" stroke-width="1.4"/>
<rect x="1266.5" y="1065" width="51" height="13.5" rx="6.5" fill="#fbefd6" stroke="#d9a446" stroke-width="2.8"/>
<!-- lower arm -->
<path d="M1176 1202L1264 1219.5H1323.4L1324.5 1423Q1324.5 1433.5 1314 1433.5H1274Q1264 1433.5 1258 1425Q1205 1350 1176 1297Q1160 1268 1153.5 1244Q1158 1222 1176 1202Z" fill="url(#gLow)" stroke="#e4c07a" stroke-width="1.3"/>
<path d="M1172 1212Q1160 1226 1158 1244Q1168 1276 1184 1303Q1214 1356 1262 1424" stroke="#e6c080" stroke-width="8" fill="none" opacity="0.85" filter="url(#soft1)"/>
<path d="M1176 1203L1264 1220.5" stroke="#fcf3e2" stroke-width="4" fill="none"/>
<path d="M1178 1197L1264 1214" stroke="#ecca90" stroke-width="3" fill="none" opacity="0.8"/>
<path d="M1314 1222H1323.6L1324.5 1423Q1324.5 1432.5 1314 1432.5H1276Q1270 1432 1266 1428H1314Z" fill="#fdf5e4"/><rect x="1264.8" y="1220.5" width="50.4" height="204" rx="7" fill="#f7e7c4" stroke="#cf9b40" stroke-width="3.4"/><rect x="1267.6" y="1223.3" width="44.8" height="198.4" rx="5" fill="none" stroke="#e9c988" stroke-width="1.6"/>
<path d="M1269 1226H1311" stroke="#fcf2e0" stroke-width="3" fill="none"/>
<!-- middle prong (in front) -->
<rect x="1081.2" y="1150" width="106.5" height="35.8" rx="17.9" fill="url(#gBar)" stroke="#dcaa56" stroke-width="1.5"/>
<rect x="1091.5" y="1158.5" width="88" height="17" rx="8.5" fill="url(#gBarIn)" stroke="#d9a650" stroke-width="1.8"/>
<!-- backing disc -->
<rect x="1597.5" y="1012.8" width="39.7" height="286.2" rx="17" ry="22" fill="url(#gDisc)" stroke="#ddb063" stroke-width="1.2"/><path d="M1622 1085Q1630 1090 1631 1155Q1630 1220 1622 1226" stroke="#dfb062" stroke-width="5" fill="none" opacity="0.75" filter="url(#soft1)"/>
<ellipse cx="1620" cy="1155" rx="7" ry="122" fill="#fff8ea" opacity="0.8" filter="url(#soft)"/><path d="M1604 1040Q1600 1155 1604 1270" stroke="#dcae60" stroke-width="3" fill="none" opacity="0.7" filter="url(#soft1)"/><path d="M1633 1040Q1637 1155 1633 1270" stroke="#dcae60" stroke-width="3" fill="none" opacity="0.7" filter="url(#soft1)"/>
<!-- butterfly loops -->
<g id="loopU">
<path d="M1639.5 1075.0C1639.5 1045.0 1660.0 1028.0 1695.0 1028.0C1738.0 1028.0 1763.5 1058.0 1763.5 1095.0C1763.5 1132.0 1738.0 1156.0 1698.0 1156.0C1662.0 1156.0 1639.5 1142.0 1639.5 1115.0ZM1651.5 1080.0C1651.5 1058.0 1668.0 1046.2 1695.0 1046.2C1722.0 1046.2 1737.0 1068.0 1737.0 1094.0C1737.0 1120.0 1720.0 1137.7 1694.0 1137.7C1668.0 1137.7 1651.5 1128.0 1651.5 1108.0Z" fill="#e6bd70" fill-rule="evenodd" stroke="#d9a650" stroke-width="1.3"/>
<path d="M1641.7 1075.9C1641.7 1047.3 1661.4 1031.3 1695.0 1031.3C1735.1 1031.3 1758.7 1059.8 1758.7 1094.8C1758.7 1129.8 1734.8 1152.7 1697.3 1152.7C1663.1 1152.7 1641.7 1139.5 1641.7 1113.7Z" fill="none" stroke="#f8e6b8" stroke-width="2.6"/>
<path d="M1644.1 1076.9C1644.1 1049.9 1663.0 1034.9 1695.0 1034.9C1731.9 1034.9 1753.4 1061.8 1753.4 1094.6C1753.4 1127.4 1731.2 1149.0 1696.5 1149.0C1664.3 1149.0 1644.1 1136.7 1644.1 1112.3Z" fill="none" stroke="#d6a248" stroke-width="1.5"/>
<path d="M1646.5 1077.9C1646.5 1052.5 1664.6 1038.6 1695.0 1038.6C1728.7 1038.6 1748.1 1063.8 1748.1 1094.4C1748.1 1125.0 1727.6 1145.4 1695.7 1145.4C1665.5 1145.4 1646.5 1133.9 1646.5 1110.9Z" fill="none" stroke="#f7e3b2" stroke-width="3"/>
<path d="M1649.1 1079.0C1649.1 1055.4 1666.4 1042.6 1695.0 1042.6C1725.2 1042.6 1742.3 1066.0 1742.3 1094.2C1742.3 1122.4 1723.6 1141.4 1694.8 1141.4C1666.8 1141.4 1649.1 1130.8 1649.1 1109.4Z" fill="none" stroke="#d8a54c" stroke-width="1.4"/>
<path d="M1650.5 1079.6C1650.5 1057.0 1667.4 1044.7 1695.0 1044.7C1723.3 1044.7 1739.1 1067.2 1739.1 1094.1C1739.1 1121.0 1721.4 1139.2 1694.3 1139.2C1667.5 1139.2 1650.5 1129.1 1650.5 1108.6Z" fill="none" stroke="#f3dca6" stroke-width="1.6"/>
</g>
<g transform="translate(0 2312.6) scale(1 -1)">
<path d="M1639.5 1075.0C1639.5 1045.0 1660.0 1028.0 1695.0 1028.0C1738.0 1028.0 1763.5 1058.0 1763.5 1095.0C1763.5 1132.0 1738.0 1156.0 1698.0 1156.0C1662.0 1156.0 1639.5 1142.0 1639.5 1115.0ZM1651.5 1080.0C1651.5 1058.0 1668.0 1046.2 1695.0 1046.2C1722.0 1046.2 1737.0 1068.0 1737.0 1094.0C1737.0 1120.0 1720.0 1137.7 1694.0 1137.7C1668.0 1137.7 1651.5 1128.0 1651.5 1108.0Z" fill="#e6bd70" fill-rule="evenodd" stroke="#d9a650" stroke-width="1.3"/>
<path d="M1641.7 1075.9C1641.7 1047.3 1661.4 1031.3 1695.0 1031.3C1735.1 1031.3 1758.7 1059.8 1758.7 1094.8C1758.7 1129.8 1734.8 1152.7 1697.3 1152.7C1663.1 1152.7 1641.7 1139.5 1641.7 1113.7Z" fill="none" stroke="#f8e6b8" stroke-width="2.6"/>
<path d="M1644.1 1076.9C1644.1 1049.9 1663.0 1034.9 1695.0 1034.9C1731.9 1034.9 1753.4 1061.8 1753.4 1094.6C1753.4 1127.4 1731.2 1149.0 1696.5 1149.0C1664.3 1149.0 1644.1 1136.7 1644.1 1112.3Z" fill="none" stroke="#d6a248" stroke-width="1.5"/>
<path d="M1646.5 1077.9C1646.5 1052.5 1664.6 1038.6 1695.0 1038.6C1728.7 1038.6 1748.1 1063.8 1748.1 1094.4C1748.1 1125.0 1727.6 1145.4 1695.7 1145.4C1665.5 1145.4 1646.5 1133.9 1646.5 1110.9Z" fill="none" stroke="#f7e3b2" stroke-width="3"/>
<path d="M1649.1 1079.0C1649.1 1055.4 1666.4 1042.6 1695.0 1042.6C1725.2 1042.6 1742.3 1066.0 1742.3 1094.2C1742.3 1122.4 1723.6 1141.4 1694.8 1141.4C1666.8 1141.4 1649.1 1130.8 1649.1 1109.4Z" fill="none" stroke="#d8a54c" stroke-width="1.4"/>
<path d="M1650.5 1079.6C1650.5 1057.0 1667.4 1044.7 1695.0 1044.7C1723.3 1044.7 1739.1 1067.2 1739.1 1094.1C1739.1 1121.0 1721.4 1139.2 1694.3 1139.2C1667.5 1139.2 1650.5 1129.1 1650.5 1108.6Z" fill="none" stroke="#f3dca6" stroke-width="1.6"/>
</g>
</g>
<!-- ===== dimension lines and callout arrows ===== -->
<g id="dims">
<!-- 8.60MM vertical -->
<path class="ln" d="M118 805.5H152M118 1433.5H152M134.5 820V1418"/>
<path class="ah" d="M134.5 807L142.5 828Q134.5 826.6 126.5 828Z"/>
<path class="ah" d="M134.5 1432L142.5 1411Q134.5 1412.4 126.5 1411Z"/>
<!-- 9.00MM horizontal -->
<path class="ln" d="M142.5 1450V1488M686.5 1450V1488M157 1467.3H672"/>
<path class="ah" d="M144 1467.3L162 1459.8Q160.8 1467.3 162 1474.8Z"/>
<path class="ah" d="M685 1467.3L667 1459.8Q668.2 1467.3 667 1474.8Z"/>
<!-- 3.50MM horizontal -->
<path class="ln" d="M1060.5 1438V1475.5M1354.5 1438V1475.5M1075 1455.6H1340"/>
<path class="ah" d="M1062 1455.6L1080 1448.1Q1078.8 1455.6 1080 1463.1Z"/>
<path class="ah" d="M1353 1455.6L1335 1448.1Q1336.2 1455.6 1335 1463.1Z"/>
<!-- gem callout -->
<path class="ln" d="M523.5 770V1107"/>
<path class="ah" d="M523.5 755L531.5 776Q523.5 774.6 515.5 776Z"/>
<!-- prong callout -->
<path class="ln" d="M1081.5 1067.3H949.8V1130"/>
<path class="ah" d="M949.8 1145L957.8 1124Q949.8 1125.4 941.8 1124Z"/>
<!-- screw back callout -->
<path class="ln" d="M1732.5 946V1046"/>
<path class="ah" d="M1732.5 931.5L1740.5 952.5Q1732.5 951.1 1724.5 952.5Z"/>
</g>
<!-- ===== headings and labels ===== -->
<g id="labels">
<text transform="translate(625.0 179.4) scale(0.9200 1)" font-size="108" textLength="353.9" lengthAdjust="spacing" stroke="#0a0a0a" stroke-width="1.3">ROSEC</text>
<text transform="translate(982.0 202.0) scale(0.9009 1.32)" font-size="108" stroke="#0a0a0a" stroke-width="1.3">J</text>
<text transform="translate(1026.6 179.4) scale(0.9200 1)" font-size="108" textLength="382.8" lengthAdjust="spacing" stroke="#0a0a0a" stroke-width="1.3">EWELS</text>
<text transform="translate(88.9 306.0) scale(1.0500 1)" font-size="59" textLength="152.0" lengthAdjust="spacing" stroke="#0a0a0a" stroke-width="0.85">Sense</text>
<text transform="translate(271.0 306.0) scale(1.0500 1)" font-size="59" textLength="81.9" lengthAdjust="spacing" stroke="#0a0a0a" stroke-width="0.85">the</text>
<text transform="translate(378.2 306.0) scale(1.0500 1)" font-size="59" textLength="315.6" lengthAdjust="spacing" stroke="#0a0a0a" stroke-width="0.85">compassion</text>
<text transform="translate(731.9 306.0) scale(1.0500 1)" font-size="59" textLength="98.2" lengthAdjust="spacing" stroke="#0a0a0a" stroke-width="0.85">and</text>
<text transform="translate(854.8 306.0) scale(1.0500 1)" font-size="59" textLength="113.0" lengthAdjust="spacing" stroke="#0a0a0a" stroke-width="0.85">love</text>
<text transform="translate(994.2 306.0) scale(1.0500 1)" font-size="59" textLength="119.0" lengthAdjust="spacing" stroke="#0a0a0a" stroke-width="0.85">with</text>
<text transform="translate(1139.3 306.0) scale(1.0500 1)" font-size="59" textLength="142.5" lengthAdjust="spacing" stroke="#0a0a0a" stroke-width="0.85">100%</text>
<text transform="translate(1309.0 306.0) scale(1.0500 1)" font-size="59" textLength="115.6" lengthAdjust="spacing" stroke="#0a0a0a" stroke-width="0.85">Real</text>
<text transform="translate(1449.4 306.0) scale(1.0500 1)" font-size="59" textLength="175.8" lengthAdjust="spacing" stroke="#0a0a0a" stroke-width="0.85">Yellow</text>
<text transform="translate(1653.2 306.0) scale(1.0500 1)" font-size="59" textLength="243.0" lengthAdjust="spacing" stroke="#0a0a0a" stroke-width="0.85">Sapphire</text>
<text transform="translate(346.9 696.3) scale(0.9764 1)" font-size="45" stroke="#0a0a0a" stroke-width="0.65">3.00</text>
<text transform="translate(434.4 696.3) scale(0.9334 1)" font-size="45" stroke="#0a0a0a" stroke-width="0.65">MM</text>
<text transform="translate(519.0 696.3) scale(1.0000 1)" font-size="45" textLength="125.6" lengthAdjust="spacing" stroke="#0a0a0a" stroke-width="0.65">Round</text>
<text transform="translate(652.9 696.3) scale(1.0000 1)" font-size="45" textLength="94.9" lengthAdjust="spacing" stroke="#0a0a0a" stroke-width="0.65">Shap</text>
<text transform="translate(759.0 696.3) scale(0.9766 1)" font-size="45" stroke="#0a0a0a" stroke-width="0.65">Yellow</text>
<text transform="translate(892.5 696.3) scale(1.0000 1)" font-size="45" textLength="171.7" lengthAdjust="spacing" stroke="#0a0a0a" stroke-width="0.65">Sapphire</text>
<text transform="translate(496.4 745.0) scale(0.8430 1)" font-size="45" stroke="#0a0a0a" stroke-width="0.65">AAA</text>
<text transform="translate(591.7 745.0) scale(1.0000 1)" font-size="45" textLength="136.1" lengthAdjust="spacing" stroke="#0a0a0a" stroke-width="0.65">Quality</text>
<text transform="translate(110.9 1229.5) rotate(-90) scale(0.9427 1)" font-size="45" stroke="#0a0a0a" stroke-width="0.65">8.60MM</text>
<text transform="translate(354.4 1509.8) scale(0.9516 1)" font-size="45" stroke="#0a0a0a" stroke-width="0.65">9.00MM</text>
<text transform="translate(794.5 1203.7) scale(1.0000 1)" font-size="45" textLength="254.8" lengthAdjust="spacing" stroke="#0a0a0a" stroke-width="0.65">Prong-Setting</text>
<text transform="translate(1626.5 918.7) scale(1.0000 1)" font-size="45" textLength="115.2" lengthAdjust="spacing" stroke="#0a0a0a" stroke-width="0.65">Screw</text>
<text transform="translate(1754.3 918.7) scale(0.9783 1)" font-size="45" stroke="#0a0a0a" stroke-width="0.65">Back</text>
<text transform="translate(1160.8 1497.6) scale(0.9500 1)" font-size="45" stroke="#0a0a0a" stroke-width="0.65">3.50MM</text>
<text transform="translate(548.9 1856.8) scale(1.0300 1)" font-size="53" textLength="187.1" lengthAdjust="spacing" stroke="#0a0a0a" stroke-width="0.8">Includes</text>
<text transform="translate(755.4 1856.8) scale(1.0300 1)" font-size="53" textLength="225.4" lengthAdjust="spacing" stroke="#0a0a0a" stroke-width="0.8">Certificate</text>
<text transform="translate(1001.5 1856.8) scale(1.0300 1)" font-size="53" textLength="46.0" lengthAdjust="spacing" stroke="#0a0a0a" stroke-width="0.8">of</text>
<text transform="translate(1059.3 1856.8) scale(1.0300 1)" font-size="53" textLength="271.9" lengthAdjust="spacing" stroke="#0a0a0a" stroke-width="0.8">Authenticity</text>
</g>
</svg>
</body>
</html>
